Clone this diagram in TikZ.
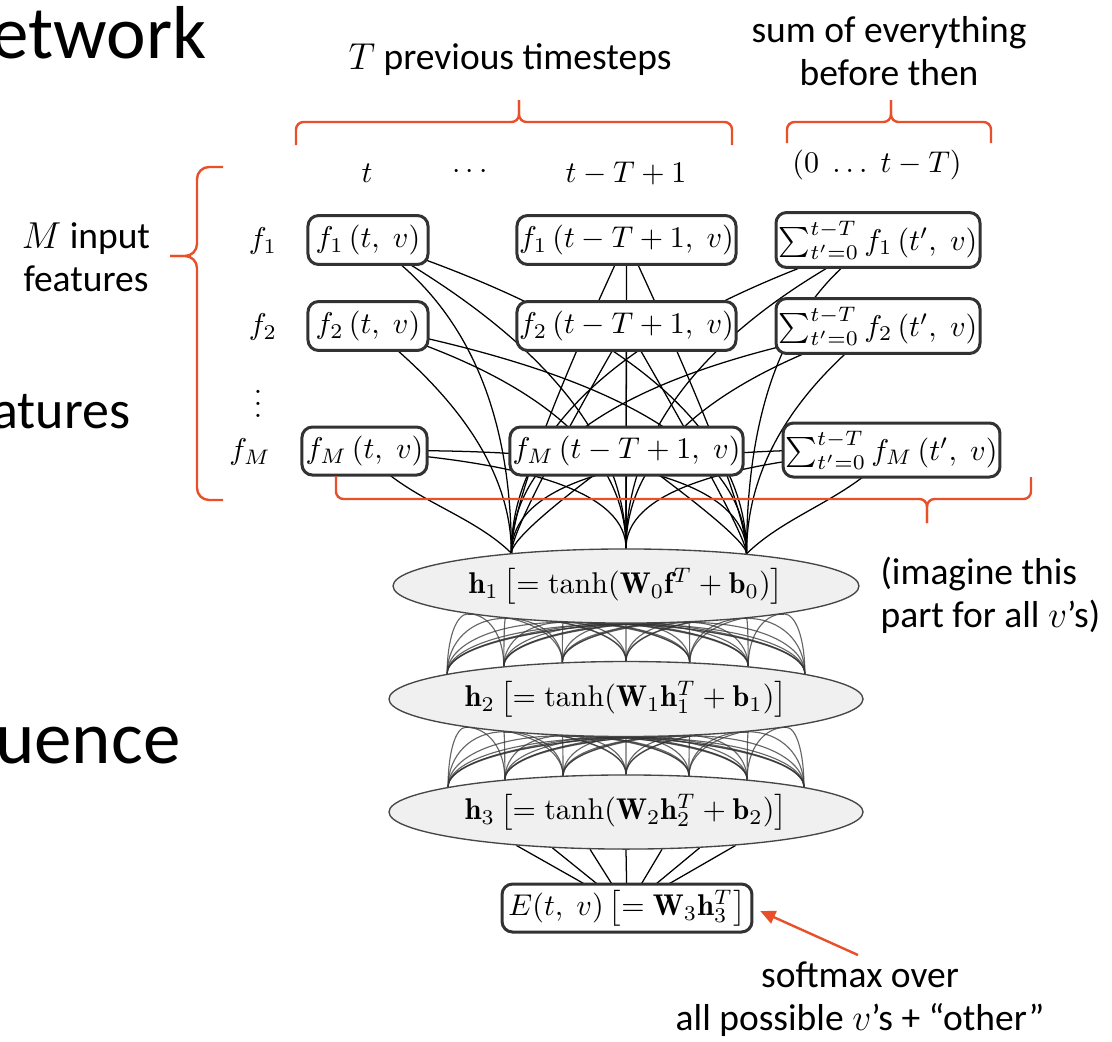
\RequirePackage{fix-cm}
\documentclass[tikz,border=0pt]{standalone}
\usepackage{fontspec}
\newfontfamily\labelfont{Carlito}
\usetikzlibrary{shapes.geometric,calc,arrows.meta}
\definecolor{accent}{RGB}{232,80,42}
\definecolor{boxline}{RGB}{50,50,50}
\definecolor{ellfill}{RGB}{240,240,240}
\definecolor{ellline}{RGB}{70,70,70}
\pgfdeclarelayer{bg}
\pgfsetlayers{bg,main}
% connector: leaves source centre with given downward angle, arrives vertically
\newcommand\qlink[3]{%
  \draw[link] let \p1=(#1.center), \p2=(#2), \n2={\y1-abs(\x2-\x1)*tan(#3)}, \p3=(\x2,{\n2*1pt}) in
    (\p1) .. controls ($(\p1)!0.6667!(\p3)$) and ($(\p2)!0.6667!(\p3)$) .. (\p2);}
% hidden-layer connector: leaves horizontally, arrives vertically
\newcommand\hlinkq[2]{%
  \draw[hlink] let \p1=(#1), \p2=(#2), \p3=(\x2,\y1) in
    (\p1) .. controls ($(\p1)!0.58!(\p3)$) and ($(\p2)!0.58!(\p3)$) .. (\p2);}
\begin{document}
\begin{tikzpicture}[x=0.3333pt,y=0.3333pt,
  fbox/.style={draw=boxline, line width=1pt, rounded corners=3.5pt, fill=white, inner sep=0pt, minimum height=16.3pt},
  hnode/.style={ellipse, draw=ellline, line width=0.45pt, fill=ellfill, inner sep=0pt, minimum width=158pt, minimum height=24.7pt},
  link/.style={black, line width=0.42pt},
  hlink/.style={black!80, line width=0.38pt, opacity=0.75},
  brace/.style={accent, line width=0.8pt, rounded corners=2.5pt},
  lab/.style={font=\labelfont\fontsize{12.5}{14.3}\selectfont, inner sep=0pt},
  big/.style={font=\labelfont\fontsize{25}{30}\selectfont, inner sep=0pt},
  mid/.style={font=\labelfont\fontsize{18}{22}\selectfont, inner sep=0pt},
  mlab/.style={inner sep=0pt}]
\useasboundingbox (0,0) rectangle (1112,-1041);
\clip (0,0) rectangle (1112,-1041);

% cut-off slide words
\node[big, anchor=base east] (wnet) at (207,-58) {etwork};
\node[mid, anchor=base east] (wfeat) at (131,-428) {atures};
\node[big, anchor=base east] (wseq) at (181,-763) {uence};

% labels
\node[lab] (tprev) at (510,-60) {$T$ previous timesteps};
\node[lab, align=center] (sumev) at (889,-51) {sum of everything\\before then};
\node[lab, align=center] (minput) at (86,-257) {$M$ input\\features};
\node[lab, align=left, anchor=west] (imagine) at (880,-595) {(imagine this\\part for all $v$’s)};
\node[lab, align=center] (softmax) at (860,-999) {softmax over\\all possible $v$’s + “other”};

% column and row labels
\node[mlab] (ct) at (367,-173) {$t$};
\node[mlab] (cdots) at (470,-172) {$\cdots$};
\node[mlab] (ctT) at (626,-173) {$t-T+1$};
\node[mlab] (csum) at (877,-165) {$(0\;\ldots\;t-T)$};
\node[mlab] (rf1) at (263,-241) {$f_1$};
\node[mlab] (rf2) at (263,-327) {$f_2$};
\node[mlab] (rdots) at (258,-395) {$\vdots$};
\node[mlab] (rfM) at (250,-452) {$f_M$};

% input boxes
\node[fbox, minimum width=40pt] (A1) at (368,-240) {$f_1\,(t,\;v)$};
\node[fbox, minimum width=73pt] (B1) at (626.5,-240) {$f_1\,(t-T+1,\;v)$};
\node[fbox, minimum width=68pt, minimum height=18.3pt] (C1) at (878,-240) {$\sum_{t'=0}^{t-T} f_1\,(t',\;v)$};
\node[fbox, minimum width=40pt] (A2) at (368,-326) {$f_2\,(t,\;v)$};
\node[fbox, minimum width=73pt] (B2) at (626.5,-326) {$f_2\,(t-T+1,\;v)$};
\node[fbox, minimum width=68pt, minimum height=18.3pt] (C2) at (878,-326) {$\sum_{t'=0}^{t-T} f_2\,(t',\;v)$};
\node[fbox, minimum width=41.7pt, minimum height=16pt] (AM) at (364.5,-451) {$f_M\,(t,\;v)$};
\node[fbox, minimum width=77.7pt, minimum height=16pt] (BM) at (626.5,-451) {$f_M\,(t-T+1,\;v)$};
\node[fbox, minimum width=72.3pt, minimum height=18pt] (CM) at (891.5,-450) {$\sum_{t'=0}^{t-T} f_M\,(t',\;v)$};

% hidden layers
\node[hnode, minimum width=155.3pt] (h1) at (626,-586) {$\mathbf{h}_1\,\bigl[=\tanh(\mathbf{W}_0\mathbf{f}^T+\mathbf{b}_0)\bigr]$};
\node[hnode, minimum height=25pt] (h2) at (626,-699) {$\mathbf{h}_2\,\bigl[=\tanh(\mathbf{W}_1\mathbf{h}_1^T+\mathbf{b}_1)\bigr]$};
\node[hnode] (h3) at (626,-812) {$\mathbf{h}_3\,\bigl[=\tanh(\mathbf{W}_2\mathbf{h}_2^T+\mathbf{b}_2)\bigr]$};

% output
\node[fbox, minimum width=83.3pt, minimum height=16pt] (E) at (627,-908) {$E(t,\;v)\,\bigl[=\mathbf{W}_3\mathbf{h}_3^T\bigr]$};

% connectors behind nodes
\begin{pgfonlayer}{bg}
  \foreach \a in {190,195,210,270,330,345,350}{
    \foreach \b in {172,165,150,90,30,15,8}{
      \hlinkq{h1.\a}{h2.\b}
      \hlinkq{h2.\a}{h3.\b}
    }}
  \foreach \a in {197,206,226,270,314,334,343}
    \draw[link] (h3.\a) -- (E.center);
  % column t
  \qlink{A1}{h1.164.3}{33}
  \qlink{A1}{h1.north}{29}
  \qlink{A1}{h1.15.7}{18}
  \qlink{A2}{h1.164.3}{38}
  \qlink{A2}{h1.north}{17}
  \qlink{A2}{h1.15.7}{11}
  \draw[link] (AM.center) .. controls +(40,-48) and +(-42,41) .. (h1.164.3);
  \qlink{AM}{h1.north}{4}
  \qlink{AM}{h1.15.7}{-1}
  % column t-T+1
  \qlink{B1}{h1.164.3}{65}
  \draw[link] (B1.center) -- (h1.north);
  \qlink{B1}{h1.15.7}{65}
  \qlink{B2}{h1.164.3}{60}
  \draw[link] (B2.center) -- (h1.north);
  \qlink{B2}{h1.15.7}{60}
  \qlink{BM}{h1.164.3}{36}
  \draw[link] (BM.center) -- (h1.north);
  \qlink{BM}{h1.15.7}{36}
  % sums
  \qlink{C1}{h1.164.3}{18}
  \qlink{C1}{h1.north}{27}
  \qlink{C1}{h1.15.7}{32}
  \qlink{C2}{h1.164.3}{10}
  \qlink{C2}{h1.north}{18}
  \qlink{C2}{h1.15.7}{38}
  \qlink{CM}{h1.164.3}{-1}
  \qlink{CM}{h1.north}{4}
  \draw[link] (CM.center) .. controls +(-40,-48) and +(42,41) .. (h1.15.7);
\end{pgfonlayer}

% braces
\draw[brace] (296,-145) -- (296,-122) -- (519,-122) -- (519,-100);
\draw[brace] (519,-100) -- (519,-122) -- (732,-122) -- (732,-145);
\draw[brace] (787,-143) -- (787,-122) -- (891,-122) -- (891,-100);
\draw[brace] (891,-100) -- (891,-122) -- (991,-122) -- (991,-143);
\draw[brace, rounded corners=4pt] (223,-167) -- (197,-167) -- (197,-256) -- (170,-256);
\draw[brace, rounded corners=4pt] (170,-256) -- (197,-256) -- (197,-500) -- (223,-500);
\draw[brace] (336,-476) -- (336,-499) -- (927,-499) -- (927,-523);
\draw[brace] (927,-523) -- (927,-499) -- (1031,-499) -- (1031,-477);

% softmax arrow
\coordinate (smtail) at (858,-955);
\draw[accent, line width=0.8pt, -{Triangle[length=5pt,width=4.5pt]}, shorten >=2.5pt] (smtail) -- (E.east);
\end{tikzpicture}
\end{document}
